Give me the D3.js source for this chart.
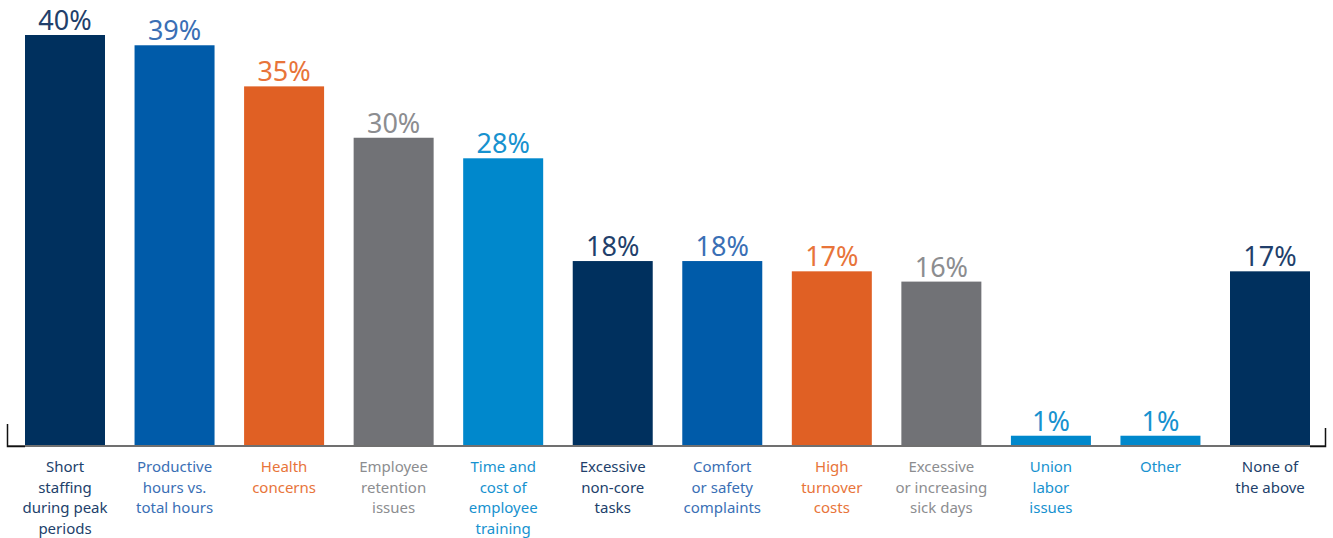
<!DOCTYPE html>
<html>
<head>
<meta charset="utf-8">
<script src="https://cdn.jsdelivr.net/npm/d3@7"></script>
<style>
    body { margin: 0; background: #fff; }
    svg { display: block; font-family: "Noto Sans", "Open Sans", sans-serif; }
</style>
</head>
<body>
<svg id="chart" width="1333" height="538"></svg>
<script>
// Chart data
var categories = [
    ["Short", "staffing", "during peak", "periods"],
    ["Productive", "hours vs.", "total hours"],
    ["Health", "concerns"],
    ["Employee", "retention", "issues"],
    ["Time and", "cost of", "employee", "training"],
    ["Excessive", "non-core", "tasks"],
    ["Comfort", "or safety", "complaints"],
    ["High", "turnover", "costs"],
    ["Excessive", "or increasing", "sick days"],
    ["Union", "labor", "issues"],
    ["Other"],
    ["None of", "the above"]
];
var values = [40, 39, 35, 30, 28, 18, 18, 17, 16, 1, 1, 17];
var colorKeys = ["navy", "blue", "orange", "gray", "sky", "navy", "blue", "orange", "gray", "sky", "sky", "navy"];

var barColors = {navy: "#00305e", blue: "#005ba9", orange: "#e06024", gray: "#717276", sky: "#0088cc"};
var textColors = {navy: "#223f6b", blue: "#3a6fb5", orange: "#e8743a", gray: "#8c8d90", sky: "#1792cf"};

var svg = d3.select("#chart");
var baseY = 446;

var x = d3.scaleBand()
    .domain(d3.range(values.length))
    .range([25, 1310])
    .paddingInner(0.2697)
    .paddingOuter(0);

var y = d3.scaleLinear()
    .domain([0, 40])
    .range([baseY, 35]);

// Bars
svg.append("g")
    .selectAll("rect")
    .data(values)
    .enter().append("rect")
    .attr("x", function(d, i) { return x(i); })
    .attr("y", function(d) { return y(d); })
    .attr("width", x.bandwidth())
    .attr("height", function(d) { return baseY - y(d); })
    .attr("fill", function(d, i) { return barColors[colorKeys[i]]; });

// Axis line with end ticks
svg.append("line")
    .attr("x1", 7).attr("x2", 1325)
    .attr("y1", baseY).attr("y2", baseY)
    .attr("stroke", "#707070")
    .attr("stroke-width", 2);
svg.append("path")
    .attr("d", "M7.5,424V446.5H25")
    .attr("fill", "none")
    .attr("stroke", "#111")
    .attr("stroke-width", 1.5);
svg.append("path")
    .attr("d", "M1310,446.5H1325.5V428")
    .attr("fill", "none")
    .attr("stroke", "#111")
    .attr("stroke-width", 1.5);

// Value labels
svg.append("g")
    .selectAll("text")
    .data(values)
    .enter().append("text")
    .attr("x", function(d, i) { return x(i) + x.bandwidth() / 2; })
    .attr("y", function(d) { return y(d) - 5; })
    .attr("text-anchor", "middle")
    .attr("font-size", 27)
    .attr("fill", function(d, i) { return textColors[colorKeys[i]]; })
    .text(function(d) { return d + "%"; });

// Category labels
var catLabels = svg.append("g")
    .selectAll("text")
    .data(categories)
    .enter().append("text")
    .attr("x", function(d, i) { return x(i) + x.bandwidth() / 2; })
    .attr("y", 472)
    .attr("text-anchor", "middle")
    .attr("font-size", 15)
    .attr("fill", function(d, i) { return textColors[colorKeys[i]]; });

catLabels.selectAll("tspan")
    .data(function(d) { return d; })
    .enter().append("tspan")
    .attr("x", function() { return d3.select(this.parentNode).attr("x"); })
    .attr("dy", function(d, j) { return j === 0 ? 0 : 20.5; })
    .text(function(d) { return d; });
</script>
</body>
</html>
